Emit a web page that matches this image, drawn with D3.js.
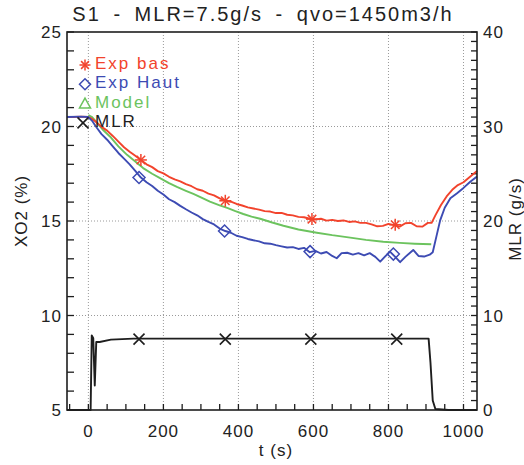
<!DOCTYPE html>
<meta charset="utf-8">
<style>
body { margin: 0; background: #fff; }
text { font-family: "Liberation Sans", Arial, sans-serif; fill: #222; }
.grid line { stroke: #9a9a9a; stroke-dasharray: 1,2; stroke-width: 1; }
</style>
<div id="viz"></div>
<script src="https://d3js.org/d3.v7.min.js"></script>
<script>
// chart data: [t (s), value]
var expBas = [[-57,20.5],[-40,20.5],[-20,20.52],[0,20.5],[10,20.4],[20,20.25],[35,19.98],[50,19.78],[65,19.5],[80,19.2],[95,18.9],[110,18.66],[125,18.45],[140,18.23],[155,18.0],[170,17.85],[185,17.64],[200,17.52],[215,17.34],[230,17.2],[245,17.1],[260,16.95],[275,16.84],[290,16.68],[305,16.6],[320,16.45],[335,16.36],[350,16.2],[365,16.07],[380,16.02],[395,15.9],[410,15.82],[425,15.72],[440,15.66],[455,15.6],[470,15.52],[485,15.5],[500,15.42],[515,15.43],[530,15.33],[545,15.3],[560,15.22],[575,15.2],[590,15.12],[605,15.08],[620,15.12],[635,15.02],[650,15.06],[665,15.0],[680,15.03],[695,14.95],[710,14.98],[725,14.9],[740,14.9],[755,14.82],[770,14.72],[785,14.74],[800,14.85],[815,14.78],[830,14.7],[845,14.88],[860,14.9],[875,14.72],[890,14.7],[905,14.9],[915,14.9],[925,15.3],[940,15.85],[955,16.3],[970,16.65],[985,16.9],[1000,17.05],[1015,17.3],[1036,17.65]];
var expHaut = [[-57,20.5],[-20,20.52],[0,20.5],[10,20.3],[20,20.0],[35,19.6],[50,19.3],[65,18.95],[80,18.6],[95,18.3],[110,18.0],[125,17.65],[140,17.3],[155,17.05],[170,16.85],[185,16.6],[200,16.4],[215,16.15],[230,16.0],[245,15.8],[260,15.62],[275,15.45],[290,15.3],[305,15.1],[320,14.95],[335,14.82],[350,14.6],[365,14.47],[380,14.38],[395,14.22],[410,14.15],[425,14.05],[440,13.98],[455,13.92],[470,13.82],[485,13.8],[500,13.72],[515,13.66],[530,13.6],[545,13.62],[560,13.52],[575,13.58],[590,13.35],[605,13.42],[620,13.28],[635,13.36],[650,13.15],[662,13.03],[675,13.3],[690,13.32],[705,13.22],[720,13.3],[735,13.18],[750,13.3],[765,13.1],[778,12.85],[790,13.1],[804,13.38],[818,13.1],[831,12.82],[845,13.1],[866,13.47],[880,13.15],[895,13.12],[910,13.22],[918,13.35],[928,14.2],[938,15.05],[950,15.7],[965,16.2],[982,16.46],[1000,16.75],[1018,17.08],[1036,17.35]];
var model = [[0,20.6],[10,20.5],[25,20.15],[40,19.8],[58,19.46],[80,18.95],[103,18.5],[125,18.15],[146,17.8],[170,17.5],[191,17.27],[215,17.0],[236,16.8],[260,16.6],[280,16.43],[300,16.25],[324,16.02],[350,15.83],[370,15.69],[392,15.52],[413,15.37],[435,15.23],[458,15.12],[490,14.92],[520,14.75],[560,14.55],[609,14.38],[650,14.25],[698,14.12],[740,14.0],[786,13.9],[830,13.84],[870,13.8],[914,13.77]];
var mlr = [[-57,0],[6,0],[9,7.9],[13,7.6],[17,2.6],[21,7.2],[30,7.2],[60,7.45],[120,7.55],[907,7.55],[912,5],[918,1],[925,0.1],[960,0],[1036,0]];

var basMarks = [[140,18.23],[365,16.07],[596,15.1],[818,14.8]];
var hautMarks = [[135,17.3],[363,14.47],[591,13.38],[813,13.25]];
var mlrMarks = [[135,7.5],[365,7.5],[593,7.5],[822,7.5]];

var legendLabels = ["Exp bas", "Exp Haut", "Model", "MLR"];
var xTicks = [0, 200, 400, 600, 800, 1000];
var yTicks = [5, 10, 15, 20, 25];
var y2Ticks = [0, 10, 20, 30, 40];

var red = "#f2432c", blue = "#3d4bb3", green = "#6cc35e", black = "#1e1e1e";

var W = 524, H = 465;
var margin = {top: 32, right: 47, bottom: 55, left: 67};
var width = W - margin.left - margin.right;
var height = H - margin.top - margin.bottom;

var svg = d3.select('#viz').append('svg')
    .attr('width', W).attr('height', H)
  .append('g')
    .attr('transform', 'translate(' + margin.left + ',' + margin.top + ')');

var x = d3.scaleLinear().domain([-57, 1036]).range([0, width]);
var y = d3.scaleLinear().domain([5, 25]).range([height, 0]);
var y2 = d3.scaleLinear().domain([0, 40]).range([height, 0]);

// gridlines
var grid = svg.append('g').attr('class', 'grid');
grid.selectAll('.gx').data(xTicks).enter().append('line')
    .attr('x1', x).attr('x2', x).attr('y1', 0).attr('y2', height);
grid.selectAll('.gy').data([10, 15, 20]).enter().append('line')
    .attr('x1', 0).attr('x2', width).attr('y1', y).attr('y2', y);

// minor ticks
var ticks = svg.append('g').attr('stroke', black).attr('stroke-width', 1.3);
ticks.selectAll('.tl').data(d3.range(5, 26, 1)).enter().append('line')
    .attr('x1', 0).attr('x2', 7).attr('y1', y).attr('y2', y);
ticks.selectAll('.tr').data(d3.range(0, 41, 1)).enter().append('line')
    .attr('x1', width).attr('x2', width - 6).attr('y1', y2).attr('y2', y2);
ticks.selectAll('.tb').data(d3.range(-50, 1036, 50)).enter().append('line')
    .attr('x1', x).attr('x2', x).attr('y1', height).attr('y2', height - 6);

// tick labels
var lab = svg.append('g').style('font-size', '17px').style('letter-spacing', '1px');
lab.selectAll('.lx').data(xTicks).enter().append('text')
    .attr('x', x).attr('y', height + 27).attr('text-anchor', 'middle').text(function(d){ return d; });
lab.selectAll('.ly').data(yTicks).enter().append('text')
    .attr('x', -5).attr('y', function(d){ return y(d) + 6; }).attr('text-anchor', 'end').text(function(d){ return d; });
lab.selectAll('.ly2').data(y2Ticks).enter().append('text')
    .attr('x', width + 6).attr('y', function(d){ return y2(d) + 6; }).text(function(d){ return d; });

lab.append('text').attr('x', x(500)).attr('y', height + 46).attr('text-anchor', 'middle').text('t (s)');
lab.append('text').attr('transform', 'translate(-40,' + (height / 2 - 10) + ') rotate(-90)')
    .attr('text-anchor', 'middle').text('XO2 (%)');
lab.append('text').attr('transform', 'translate(' + (width + 44) + ',' + (height / 2 - 2) + ') rotate(-90)')
    .attr('text-anchor', 'middle').text('MLR (g/s)');

// title
svg.append('text').attr('x', 196).attr('y', -11).attr('text-anchor', 'middle')
    .style('font-size', '20px').style('letter-spacing', '2px').style('word-spacing', '5px')
    .text('S1 - MLR=7.5g/s - qvo=1450m3/h');

// lines
var line = d3.line().x(function(d){ return x(d[0]); }).y(function(d){ return y(d[1]); });
var line2 = d3.line().x(function(d){ return x(d[0]); }).y(function(d){ return y2(d[1]); });
var plot = svg.append('g').attr('fill', 'none').attr('stroke-width', 1.9).attr('stroke-linejoin', 'round');
plot.append('path').datum(model).attr('stroke', green).attr('d', line);
plot.append('path').datum(expBas).attr('stroke', red).attr('d', line);
plot.append('path').datum(expHaut).attr('stroke', blue).attr('d', line);
plot.append('path').datum(mlr).attr('stroke', black).attr('d', line2);

// markers
function asterisk(g, cx, cy, s, c) {
  [0, 45, 90, 135].forEach(function(a) {
    var r = a * Math.PI / 180;
    g.append('line').attr('x1', cx - s * Math.cos(r)).attr('y1', cy - s * Math.sin(r))
      .attr('x2', cx + s * Math.cos(r)).attr('y2', cy + s * Math.sin(r)).attr('stroke', c).attr('stroke-width', 1.5);
  });
}
function diamond(g, cx, cy, s, c) {
  g.append('path').attr('d', 'M' + cx + ',' + (cy - s) + 'L' + (cx + s) + ',' + cy + 'L' + cx + ',' + (cy + s) + 'L' + (cx - s) + ',' + cy + 'Z')
    .attr('fill', 'none').attr('stroke', c).attr('stroke-width', 1.5);
}
function triangle(g, cx, cy, s, c) {
  g.append('path').attr('d', 'M' + cx + ',' + (cy - s) + 'L' + (cx + s) + ',' + (cy + s * 0.8) + 'L' + (cx - s) + ',' + (cy + s * 0.8) + 'Z')
    .attr('fill', 'none').attr('stroke', c).attr('stroke-width', 1.5);
}
function cross(g, cx, cy, s, c) {
  g.append('path').attr('d', 'M' + (cx - s) + ',' + (cy - s) + 'L' + (cx + s) + ',' + (cy + s) + 'M' + (cx - s) + ',' + (cy + s) + 'L' + (cx + s) + ',' + (cy - s))
    .attr('stroke', c).attr('stroke-width', 1.6);
}
var marks = svg.append('g');
basMarks.forEach(function(d){ asterisk(marks, x(d[0]), y(d[1]), 6, red); });
hautMarks.forEach(function(d){ diamond(marks, x(d[0]), y(d[1]), 6, blue); });
mlrMarks.forEach(function(d){ cross(marks, x(d[0]), y2(d[1]), 5.5, black); });

// legend
var legColors = [red, blue, green, black];
var legSyms = [asterisk, diamond, triangle, cross];
var leg = svg.append('g');
legendLabels.forEach(function(t, i) {
  var ly = 37 + i * 19.3;
  legSyms[i](leg, i == 3 ? 16 : 18, ly - 4, 5.5, legColors[i]);
  leg.append('text').attr('x', 28).attr('y', ly).style('font-size', '17px').style('letter-spacing', '2px')
    .style('fill', legColors[i]).text(t);
});

// frame
svg.append('rect').attr('width', width).attr('height', height)
    .attr('fill', 'none').attr('stroke', black).attr('stroke-width', 1.6);
</script>
